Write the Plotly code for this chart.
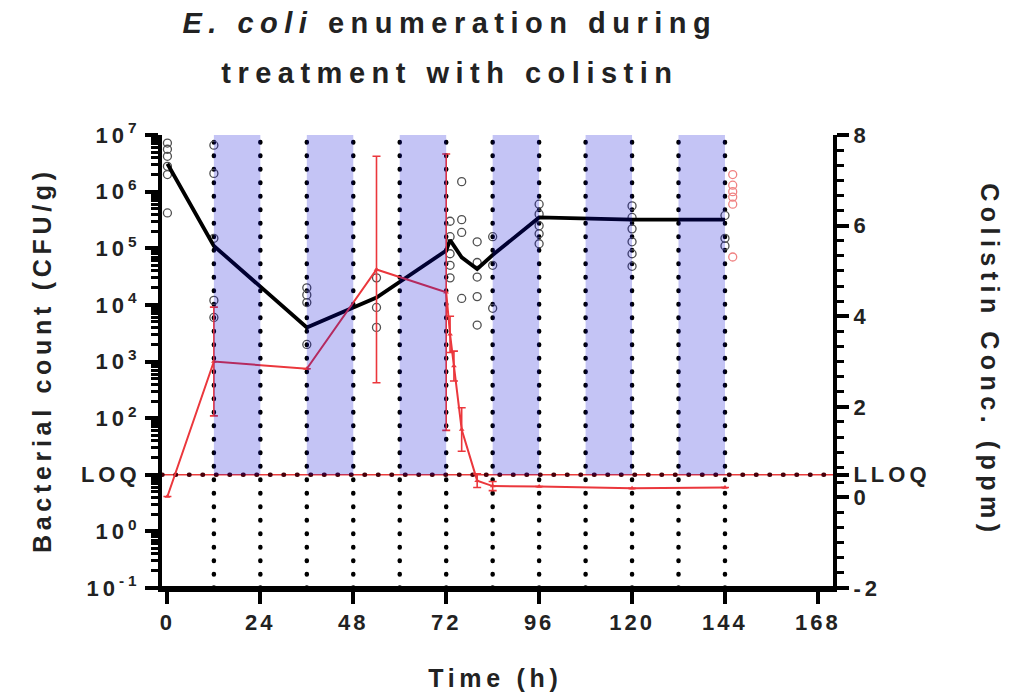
import plotly.graph_objects as go

# ---------------- data ----------------
# Bacterial count (CFU/g), mean line
t_mean = [0, 12, 36, 54, 72, 73, 74, 76, 80, 84, 96, 120, 144]
cfu_mean = [3.1e6, 1.1e5, 4.0e3, 1.35e4, 9.1e4, 1.4e5, 1.1e5, 6.9e4, 4.3e4, 7.6e4, 3.5e5, 3.2e5, 3.2e5]

# Individual counts (CFU/g)
t_ind = ([0] * 6 + [12] * 5 + [36] * 4 + [54] * 3 + [73] * 5 + [76] * 4 +
         [80] * 5 + [84] * 3 + [96] * 5 + [120] * 6 + [144] * 3)
cfu_ind = [7.2e6, 5.6e6, 4.2e6, 2.8e6, 2.0e6, 4.2e5,
           6.6e6, 2.1e6, 1.5e5, 1.2e4, 6.0e3,
           2.0e4, 1.5e4, 1.1e4, 2.0e3,
           3.0e4, 9.0e3, 4.0e3,
           3.0e5, 1.6e5, 8.0e4, 5.0e4, 3.0e4,
           1.5e6, 3.2e5, 1.9e5, 1.3e4,
           1.3e5, 5.6e4, 3.1e4, 1.4e4, 4.4e3,
           1.6e5, 5.0e4, 8.7e3,
           6.0e5, 4.0e5, 2.5e5, 1.8e5, 1.2e5,
           5.6e5, 3.5e5, 2.2e5, 1.3e5, 8.0e4, 4.8e4,
           3.8e5, 1.5e5, 1.1e5]

# Pink individual counts at end of study
t_pink = [146] * 6
cfu_pink = [2.0e6, 1.3e6, 1.0e6, 8.0e5, 6.0e5, 7.0e4]

# Colistin concentration (ppm)
t_col = [0, 12, 36, 54, 72, 73, 74, 76, 80, 84, 96, 120, 144]
col_conc = [0.02, 3.0, 2.84, 5.03, 4.53, 3.6, 2.9, 1.5, 0.37, 0.25, 0.24, 0.2, 0.22]
col_err = [0, 1.2, 0, 2.5, 3.05, 0.4, 0.33, 0.48, 0.15, 0.1, 0, 0, 0]

# Treatment (dosing) periods, h
band_start = [12, 36, 60, 84, 108, 132]
band_end = [24, 48, 72, 96, 120, 144]
sample_times = list(range(12, 145, 12))

LOQ_cfu = 10
LLOQ_ppm = 0.5

x_ticks = list(range(0, 169, 24))
y_tickvals = [10.0 ** e for e in range(-1, 8)]
y_ticktext = ["10<sup>-1</sup>", "10<sup>0</sup>", "LOQ", "10<sup>2</sup>", "10<sup>3</sup>",
              "10<sup>4</sup>", "10<sup>5</sup>", "10<sup>6</sup>", "10<sup>7</sup>"]
y2_tickvals = [-2, 0, 0.5, 2, 4, 6, 8]
y2_ticktext = ["-2", "0", "LLOQ", "2", "4", "6", "8"]

FONT = "Liberation Sans"
TXT = "#222222"

fig = go.Figure()

fig.add_trace(go.Scatter(
    x=t_ind, y=cfu_ind, mode="markers", yaxis="y",
    marker=dict(symbol="circle-open", size=8, color="rgb(80,80,80)", line=dict(width=1.3)),
    showlegend=False))
fig.add_trace(go.Scatter(
    x=t_pink, y=cfu_pink, mode="markers", yaxis="y",
    marker=dict(symbol="circle-open", size=8, color="rgb(240,130,130)", line=dict(width=1.3)),
    showlegend=False))
fig.add_trace(go.Scatter(
    x=t_mean, y=cfu_mean, mode="lines", yaxis="y",
    line=dict(color="black", width=3.8), showlegend=False))
fig.add_trace(go.Scatter(
    x=t_col, y=col_conc, mode="lines+markers", yaxis="y2",
    line=dict(color="rgb(235,55,60)", width=2),
    marker=dict(symbol="triangle-up", size=5, color="rgb(235,55,60)"),
    error_y=dict(type="data", array=col_err, color="rgb(235,55,60)", thickness=1.6, width=4),
    showlegend=False))

shapes = []
# vertical dotted sampling lines
for t in sample_times:
    shapes.append(dict(type="line", xref="x", yref="paper", x0=t, x1=t, y0=0, y1=1,
                       line=dict(color="black", width=4.5, dash="4px,9px"), layer="below"))
# LOQ / LLOQ horizontal line
shapes.append(dict(type="line", xref="paper", yref="y2", x0=0, x1=1, y0=LLOQ_ppm, y1=LLOQ_ppm,
                   line=dict(color="rgb(235,60,60)", width=1.6), layer="below"))
shapes.append(dict(type="line", xref="paper", yref="y2", x0=0, x1=1, y0=LLOQ_ppm, y1=LLOQ_ppm,
                   line=dict(color="rgb(70,0,10)", width=4.5, dash="4px,10px"), layer="below"))
# treatment bands
for a, b in zip(band_start, band_end):
    shapes.append(dict(type="rect", xref="x", yref="y2", x0=a, x1=b, y0=LLOQ_ppm, y1=8.2,
                       fillcolor="rgba(0,0,211,0.23)", line=dict(width=0), layer="above"))
# extended x-axis line
shapes.append(dict(type="line", xref="paper", yref="paper", x0=-0.02, x1=1.02, y0=0, y1=0,
                   line=dict(color="black", width=4), layer="above"))

annotations = [
    dict(text="<b><i>E. coli</i> enumeration during</b>", x=0.429, y=1.247,
         font=dict(family=FONT, size=29, color=TXT)),
    dict(text="<b>treatment with colistin</b>", x=0.429, y=1.137,
         font=dict(family=FONT, size=29, color=TXT)),
    dict(text="<b>Bacterial count (CFU/g)</b>", x=-0.179, y=0.503, textangle=-90,
         font=dict(family=FONT, size=25, color=TXT)),
    dict(text="<b>Colistin Conc. (ppm)</b>", x=1.234, y=0.503, textangle=90,
         font=dict(family=FONT, size=25, color=TXT)),
    dict(text="<b>Time (h)</b>", x=0.497, y=-0.199,
         font=dict(family=FONT, size=25, color=TXT)),
]
for a in annotations:
    a.update(xref="paper", yref="paper", showarrow=False, xanchor="center", yanchor="middle")

minor_log = [k * 10.0 ** e for e in range(-1, 7) for k in range(2, 10)]
tickfont = dict(family=FONT, size=22, color=TXT, weight="bold")

fig.update_layout(
    width=1017, height=688,
    margin=dict(l=154, r=192, t=127, b=108),
    paper_bgcolor="white", plot_bgcolor="white",
    shapes=shapes, annotations=annotations,
    xaxis=dict(range=[-1.4, 171.9], tickmode="array", tickvals=x_ticks,
               ticks="outside", ticklen=12, tickwidth=4, tickcolor="black",
               showline=True, linewidth=4, linecolor="black", showgrid=False, zeroline=False,
               tickfont=tickfont),
    yaxis=dict(type="log", range=[-1, 7], tickmode="array", tickvals=y_tickvals, ticktext=y_ticktext,
               ticks="outside", ticklen=13, tickwidth=4, tickcolor="black",
               showline=True, linewidth=4, linecolor="black", showgrid=False, zeroline=False,
               tickfont=tickfont,
               minor=dict(tickmode="array", tickvals=minor_log, ticks="outside", ticklen=7,
                          tickwidth=2.5, tickcolor="black")),
    yaxis2=dict(overlaying="y", side="right", range=[-2, 8], tickmode="array",
                tickvals=y2_tickvals, ticktext=y2_ticktext,
                ticks="outside", ticklen=12, tickwidth=4, tickcolor="black",
                showline=True, linewidth=4, linecolor="black", showgrid=False, zeroline=False,
                tickfont=tickfont,
                minor=dict(dtick=1 / 3, tick0=0, ticks="outside", ticklen=7, tickwidth=2.5,
                           tickcolor="black")),
)

post_js = """
(function(){
  var gd = document.getElementById('{plot_id}');
  function apply(){
    var sp = {'0': 6.5, '1': 6.5, '2': 4.7, '3': 5.5, '4': 4.7};
    gd.querySelectorAll('g.annotation').forEach(function(g){
      var i = g.getAttribute('data-index');
      var t = g.querySelector('text');
      if (t && sp[i] !== undefined) { t.style.letterSpacing = sp[i] + 'px'; }
    });
    gd.querySelectorAll('.xtick text').forEach(function(t){ t.style.letterSpacing = '3px'; });
    gd.querySelectorAll('.ytick text, .y2tick text').forEach(function(t){ t.style.letterSpacing = '4px'; });
    gd.querySelectorAll('.shapelayer path').forEach(function(p){
      var d = p.style.strokeDasharray;
      if (d && d !== 'none') { p.style.strokeLinecap = 'round'; p.style.strokeDasharray = '0.5px,13px'; }
    });
  }
  apply();
  setTimeout(apply, 0);
  setTimeout(apply, 100);
  if (gd.on) { gd.on('plotly_afterplot', apply); }
})();
"""

fig.write_html("out.html", post_script=post_js)
